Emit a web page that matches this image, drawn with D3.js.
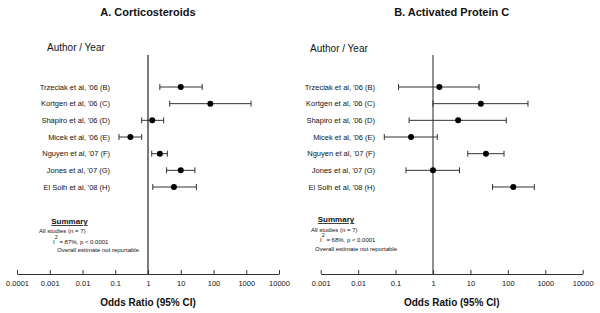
<!DOCTYPE html>
<html>
<head>
<meta charset="utf-8">
<script src="https://cdn.jsdelivr.net/npm/d3@7"></script>
<style>
  body { margin: 0; background: #fff; }
  text { font-family: "Liberation Sans", Arial, sans-serif; fill: #111; }
</style>
</head>
<body>
<div id="forest"></div>
<script>
// Studies (same for both panels)
const studies = [
  "Trzeciak et al, '06 (B)",
  "Kortgen et al, '06 (C)",
  "Shapiro et al, '06 (D)",
  "Micek et al, '06 (E)",
  "Nguyen et al, '07 (F)",
  "Jones et al, '07 (G)",
  "El Solh et al, '08 (H)"
];

// A. Corticosteroids - odds ratios and 95% CI
const steroidOR   = [10,  80,   1.35, 0.29, 2.3, 10,  6.2];
const steroidLow  = [2.3, 4.6,  0.64, 0.13, 1.3, 3.7, 1.4];
const steroidHigh = [45,  1400, 3.0,  0.64, 3.9, 27,  30];
const steroidTicks = [0.0001, 0.001, 0.01, 0.1, 1, 10, 100, 1000, 10000];
const steroidTickLabels = ["0.0001", "0.001", "0.01", "0.1", "1", "10", "100", "1000", "10000"];

// B. Activated Protein C - odds ratios and 95% CI
const apcOR   = [1.48, 19,  4.7,  0.26, 26,  1.0,  140];
const apcLow  = [0.12, 1.0, 0.23, 0.05, 8.5, 0.19, 39];
const apcHigh = [17,   345, 91,   1.3,  79,  5.1,  510];
const apcTicks = [0.001, 0.01, 0.1, 1, 10, 100, 1000, 10000];
const apcTickLabels = ["0.001", "0.01", "0.1", "1", "10", "100", "1000", "10000"];

// Summary texts
const steroidI2 = "87%";
const apcI2 = "68%";

const drawForest = () => {

  /*******************************/
  /*    Declare the constants    */
  /*******************************/
  const width = 600;
  const height = 313;
  const axisY = 274;
  const lineTop = 55;

  const svg = d3.select("#forest")
    .append("svg")
      .attr("width", width)
      .attr("height", height)
      .attr("viewBox", `0, 0, ${width}, ${height}`);

  const panels = [
    {
      title: "A. Corticosteroids", or: steroidOR, low: steroidLow, high: steroidHigh,
      ticks: steroidTicks, labels: steroidTickLabels, i2: steroidI2,
      range: [17, 279], labelRight: 110, authorX: 47, authorY: 51,
      summaryX: 69.5, summaryY: 224, refColor: "#222", refWidth: 1.2,
      lines: [{x: 39, y: 233}, {x: 53, y: 244}, {x: 57, y: 252}]
    },
    {
      title: "B. Activated Protein C", or: apcOR, low: apcLow, high: apcHigh,
      ticks: apcTicks, labels: apcTickLabels, i2: apcI2,
      range: [320.7, 582.7], labelRight: 375, authorX: 310, authorY: 52,
      summaryX: 336, summaryY: 222, refColor: "#777", refWidth: 1.6,
      lines: [{x: 311, y: 232}, {x: 320, y: 242}, {x: 315, y: 251}]
    }
  ];

  // Shared row scale
  const yScale = d3.scalePoint()
    .domain(studies)
    .range([87, 187]);

  panels.forEach(p => {
    const xScale = d3.scaleLog()
      .domain([p.ticks[0], p.ticks[p.ticks.length - 1]])
      .range(p.range);
    const cx = (p.range[0] + p.range[1]) / 2;
    const rows = studies.map((s, i) => ({study: s, or: p.or[i], low: p.low[i], high: p.high[i]}));

    // Panel title
    svg.append("text")
      .text(p.title)
      .attr("x", cx)
      .attr("y", 16)
      .attr("text-anchor", "middle")
      .attr("font-size", 11)
      .attr("font-weight", "bold");

    svg.append("text")
      .text("Author / Year")
      .attr("x", p.authorX)
      .attr("y", p.authorY)
      .attr("font-size", 10);

    // Line of no effect
    svg.append("line")
      .attr("x1", xScale(1))
      .attr("x2", xScale(1))
      .attr("y1", lineTop)
      .attr("y2", axisY)
      .attr("stroke", p.refColor)
      .attr("stroke-width", p.refWidth);

    // Study labels
    svg.append("g")
      .selectAll("text")
      .data(rows)
      .join("text")
        .text(d => d.study)
        .attr("x", p.labelRight)
        .attr("y", d => yScale(d.study) + 2.7)
        .attr("text-anchor", "end")
        .attr("font-size", 7.5);

    // Confidence intervals
    const ci = svg.append("g")
      .selectAll("g")
      .data(rows)
      .join("g")
        .attr("stroke", "#333")
        .attr("stroke-width", 1);
    ci.append("line")
      .attr("x1", d => xScale(d.low))
      .attr("x2", d => xScale(d.high))
      .attr("y1", d => yScale(d.study))
      .attr("y2", d => yScale(d.study));
    ci.append("line")
      .attr("x1", d => xScale(d.low))
      .attr("x2", d => xScale(d.low))
      .attr("y1", d => yScale(d.study) - 3)
      .attr("y2", d => yScale(d.study) + 3);
    ci.append("line")
      .attr("x1", d => xScale(d.high))
      .attr("x2", d => xScale(d.high))
      .attr("y1", d => yScale(d.study) - 3)
      .attr("y2", d => yScale(d.study) + 3);

    // Point estimates
    svg.append("g")
      .selectAll("circle")
      .data(rows)
      .join("circle")
        .attr("cx", d => xScale(d.or))
        .attr("cy", d => yScale(d.study))
        .attr("r", 3)
        .attr("fill", "#000");

    // X axis (ticks point up)
    const axis = d3.axisBottom(xScale)
      .tickValues(p.ticks)
      .tickFormat((d, i) => p.labels[i])
      .tickSizeInner(-4)
      .tickSizeOuter(0)
      .tickPadding(7);
    const gAxis = svg.append("g")
      .attr("transform", `translate(0, ${axisY})`)
      .call(axis);
    gAxis.select(".domain").attr("stroke", "#333");
    gAxis.selectAll(".tick line").attr("stroke", "#333");
    gAxis.selectAll("text")
      .attr("font-family", "Liberation Sans, Arial, sans-serif")
      .attr("font-size", 7.5)
      .attr("fill", "#111");

    svg.append("text")
      .text("Odds Ratio (95% CI)")
      .attr("x", cx)
      .attr("y", 306)
      .attr("text-anchor", "middle")
      .attr("font-size", 10)
      .attr("font-weight", "bold");

    // Summary block
    svg.append("text")
      .text("Summary")
      .attr("x", p.summaryX)
      .attr("y", p.summaryY)
      .attr("text-anchor", "middle")
      .attr("font-size", 8)
      .attr("font-weight", "bold")
      .attr("text-decoration", "underline");
    svg.append("text")
      .text("All studies (n = 7)")
      .attr("x", p.lines[0].x)
      .attr("y", p.lines[0].y)
      .attr("font-size", 6);
    const i2 = svg.append("text")
      .attr("x", p.lines[1].x)
      .attr("y", p.lines[1].y)
      .attr("font-size", 6);
    i2.append("tspan").text("I");
    i2.append("tspan").text("2").attr("dy", -5).attr("font-size", 5.5);
    i2.append("tspan").text(` = ${p.i2}, p < 0.0001`).attr("dy", 5);
    svg.append("text")
      .text("Overall estimate not reportable")
      .attr("x", p.lines[2].x)
      .attr("y", p.lines[2].y)
      .attr("font-size", 6);
  });
};

drawForest();
</script>
</body>
</html>
